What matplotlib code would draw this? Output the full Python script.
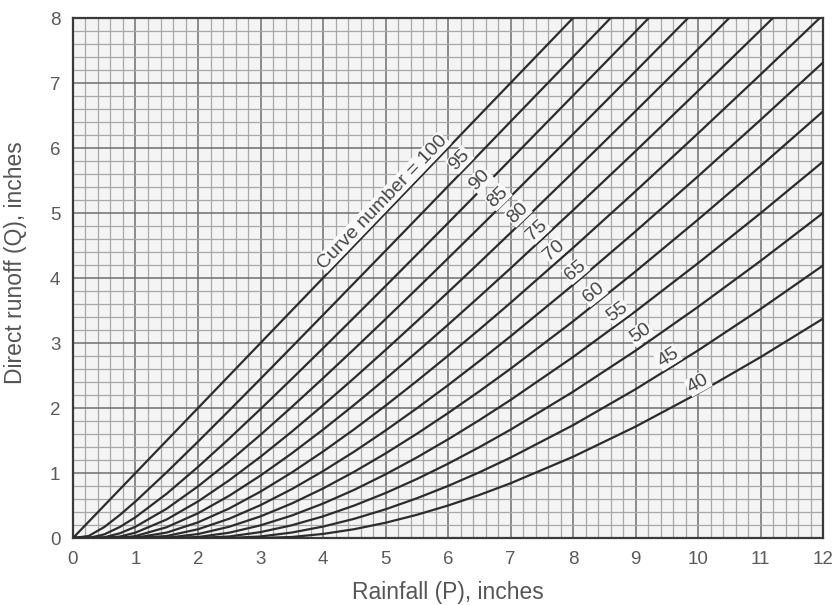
import numpy as np
import matplotlib
matplotlib.use("Agg")
import matplotlib.pyplot as plt
from matplotlib.ticker import MultipleLocator

plt.rcParams['font.family'] = ['Liberation Sans', 'DejaVu Sans']

# Rainfall P (inches) at which the curves were read
rainfall = [0, 0.25, 0.5, 0.75, 1, 1.5, 2, 2.5, 3, 3.5, 4, 4.5, 5, 5.5, 6, 6.5, 7, 8, 9, 10, 11, 12]

# Direct runoff Q (inches) read for each curve number
q_cn100 = [0, 0.25, 0.5, 0.75, 1, 1.5, 2, 2.5, 3, 3.5, 4, 4.5, 5, 5.5, 6, 6.5, 7, 8, 9, 10, 11, 12]
q_cn95 = [0, 0.031, 0.169, 0.355, 0.563, 1.013, 1.483, 1.963, 2.449, 2.939, 3.431, 3.925, 4.419, 4.915, 5.412, 5.908, 6.406, 7.401, 8.398, 9.395, 10.394, 11.393]
q_cn90 = [0, 0.001, 0.056, 0.170, 0.320, 0.683, 1.094, 1.531, 1.984, 2.448, 2.919, 3.396, 3.876, 4.360, 4.846, 5.334, 5.823, 6.806, 7.791, 8.780, 9.771, 10.763]
q_cn85 = [0, 0, 0.011, 0.073, 0.174, 0.452, 0.795, 1.178, 1.588, 2.016, 2.458, 2.909, 3.368, 3.833, 4.303, 4.776, 5.253, 6.213, 7.181, 8.155, 9.133, 10.115]
q_cn80 = [0, 0, 0, 0.023, 0.083, 0.286, 0.563, 0.889, 1.250, 1.636, 2.042, 2.462, 2.893, 3.333, 3.781, 4.235, 4.694, 5.625, 6.568, 7.521, 8.481, 9.446]
q_cn75 = [0, 0, 0, 0.002, 0.030, 0.167, 0.381, 0.651, 0.961, 1.302, 1.667, 2.050, 2.449, 2.861, 3.282, 3.712, 4.149, 5.042, 5.952, 6.877, 7.813, 8.758]
q_cn70 = [0, 0, 0, 0, 0.005, 0.084, 0.241, 0.455, 0.714, 1.008, 1.330, 1.674, 2.036, 2.414, 2.805, 3.207, 3.618, 4.464, 5.335, 6.225, 7.130, 8.048]
q_cn65 = [0, 0, 0, 0, 0, 0.031, 0.135, 0.297, 0.506, 0.752, 1.029, 1.330, 1.654, 1.995, 2.351, 2.721, 3.103, 3.894, 4.717, 5.565, 6.433, 7.316]
q_cn60 = [0, 0, 0, 0, 0, 0.004, 0.061, 0.174, 0.333, 0.531, 0.762, 1.020, 1.301, 1.603, 1.922, 2.256, 2.604, 3.333, 4.101, 4.899, 5.721, 6.564]
q_cn55 = [0, 0, 0, 0, 0, 0, 0.015, 0.082, 0.195, 0.346, 0.530, 0.742, 0.980, 1.239, 1.518, 1.813, 2.124, 2.784, 3.488, 4.228, 4.997, 5.791]
q_cn50 = [0, 0, 0, 0, 0, 0, 0, 0.024, 0.091, 0.196, 0.333, 0.500, 0.692, 0.907, 1.143, 1.397, 1.667, 2.250, 2.882, 3.556, 4.263, 5.000]
q_cn45 = [0, 0, 0, 0, 0, 0, 0, 0, 0.024, 0.084, 0.176, 0.296, 0.442, 0.611, 0.801, 1.010, 1.237, 1.736, 2.289, 2.886, 3.523, 4.193]
q_cn40 = [0, 0, 0, 0, 0, 0, 0, 0, 0, 0.016, 0.063, 0.136, 0.235, 0.357, 0.500, 0.662, 0.842, 1.250, 1.714, 2.227, 2.783, 3.375]

curve_numbers = [100, 95, 90, 85, 80, 75, 70, 65, 60, 55, 50, 45, 40]
curve_values = [q_cn100, q_cn95, q_cn90, q_cn85, q_cn80, q_cn75, q_cn70,
                q_cn65, q_cn60, q_cn55, q_cn50, q_cn45, q_cn40]
curve_labels = ["Curve number = 100", "95", "90", "85", "80", "75", "70",
                "65", "60", "55", "50", "45", "40"]
# where each label sits (P, Q)
label_p = [4.95, 6.19, 6.51, 6.80, 7.12, 7.43, 7.70, 8.04, 8.33, 8.71, 9.08, 9.52, 10.0]
label_q = [5.17, 5.82, 5.51, 5.25, 5.00, 4.74, 4.43, 4.12, 3.77, 3.48, 3.15, 2.78, 2.38]

x_ticks = list(range(0, 13))
y_ticks = list(range(0, 9))

fig = plt.figure(figsize=(8.4, 6.05), dpi=100)
ax = fig.add_axes([0.0869, 0.1107, 0.8929, 0.8595])
ax.set_xlim(0, 12)
ax.set_ylim(0, 8)

ax.xaxis.set_minor_locator(MultipleLocator(0.2))
ax.yaxis.set_minor_locator(MultipleLocator(0.2))
ax.set_xticks(x_ticks)
ax.set_yticks(y_ticks)
ax.grid(which='minor', color='#a8a8a8', linewidth=0.9)
ax.grid(which='major', color='#6e6e6e', linewidth=1.1)
ax.set_axisbelow(True)
ax.set_facecolor('#f4f4f4')

ax.tick_params(which='both', length=0, labelsize=13.5, labelcolor='#5a5a5a', pad=9)

for spine in ax.spines.values():
    spine.set_color('#3a3a3a')
    spine.set_linewidth(1.6)

for vals in curve_values:
    ax.plot(rainfall, vals, color='#2c2c2c', linewidth=1.6, solid_capstyle='round', zorder=3)

for lab, px, py, vals in zip(curve_labels, label_p, label_q, curve_values):
    slope = (np.interp(px + 0.3, rainfall, vals) - np.interp(px - 0.3, rainfall, vals)) / 0.6
    ang = np.degrees(np.arctan(slope))
    ax.text(px, py, lab, rotation=ang, transform_rotates_text=True,
            rotation_mode='anchor', ha='center', va='center',
            fontsize=14, color='#464646', zorder=4,
            bbox=dict(facecolor='#f8f8f8', edgecolor='none', pad=0.6))

ax.set_xlabel('Rainfall (P), inches', fontsize=16.5, color='#555555')
ax.set_ylabel('Direct runoff (Q), inches', fontsize=16.5, color='#555555')
ax.xaxis.set_label_coords(0.5, -0.082)
ax.yaxis.set_label_coords(-0.061, 0.53)

fig.savefig('out.png', dpi=100, facecolor='white')
